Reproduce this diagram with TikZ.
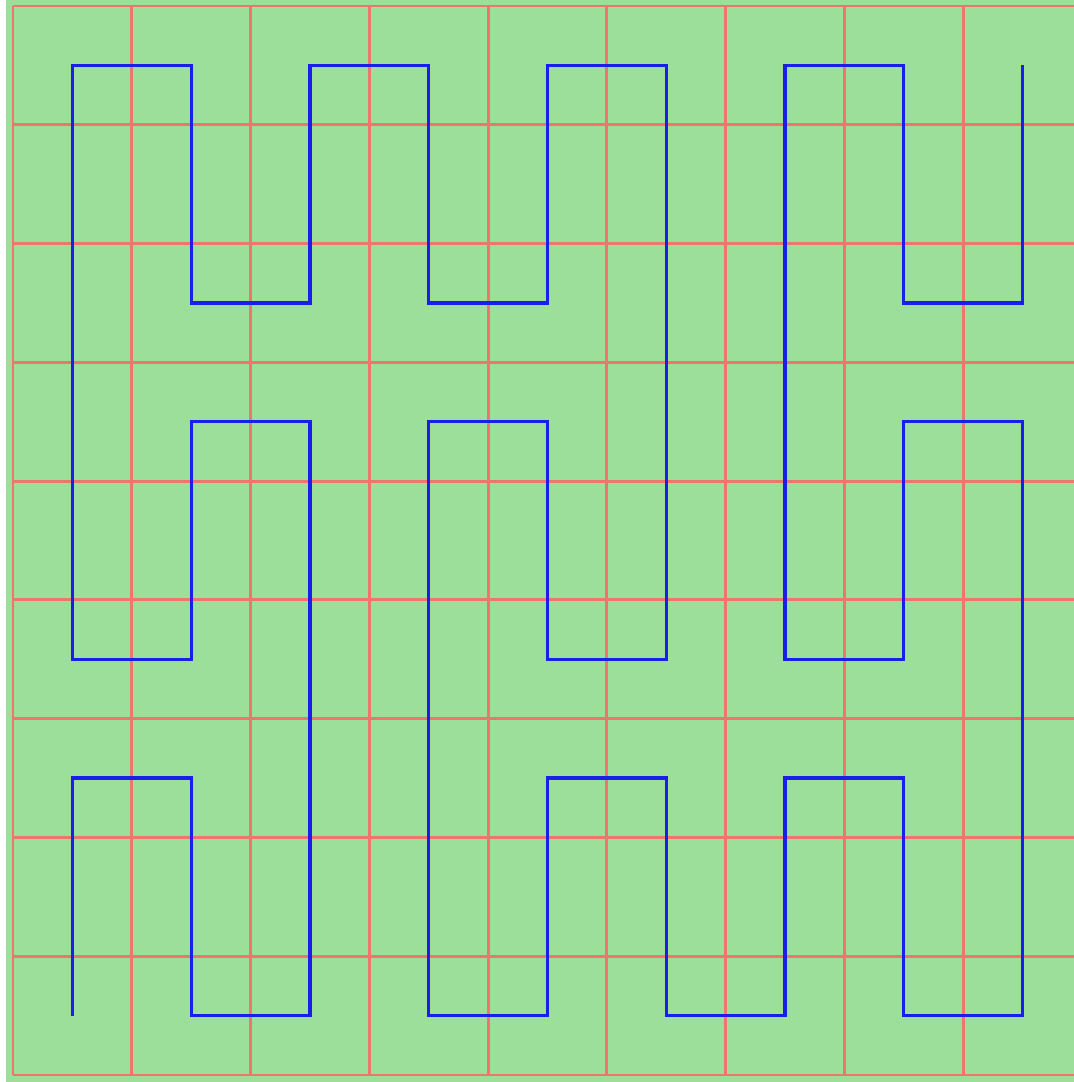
\documentclass[tikz,border=0pt]{standalone}
\usepackage{tikz}
\usetikzlibrary{calc}
\definecolor{peanogreen} {RGB}{155, 223, 155}
\definecolor{peanored}   {RGB}{238, 118, 108}
\definecolor{peanoblue}  {RGB}{ 25,  30, 235}
\begin{document}
\begin{tikzpicture}[x=1cm,y=1cm]
	\useasboundingbox (-0.1094,-0.0589) rectangle (8.9310,9.0505);
	\fill[peanogreen] (-0.0589,-0.0589) rectangle (9.0589,9.0589);
	\draw[peanored,line width=0.7pt] (0,0) grid (9,9);
	\draw[peanoblue,line width=0.75pt] (0.5,0.5)--(0.5,2.5)--(1.5,2.5)--(1.5,0.5)--(2.5,0.5)--(2.5,5.5)--(1.5,5.5)--(1.5,3.5)--(0.5,3.5)--(0.5,8.5)
		--(1.5,8.5)--(1.5,6.5)--(2.5,6.5)--(2.5,8.5)--(3.5,8.5)--(3.5,6.5)--(4.5,6.5)--(4.5,8.5)--(5.5,8.5)--(5.5,3.5)
		--(4.5,3.5)--(4.5,5.5)--(3.5,5.5)--(3.5,0.5)--(4.5,0.5)--(4.5,2.5)--(5.5,2.5)--(5.5,0.5)--(6.5,0.5)--(6.5,2.5)
		--(7.5,2.5)--(7.5,0.5)--(8.5,0.5)--(8.5,5.5)--(7.5,5.5)--(7.5,3.5)--(6.5,3.5)--(6.5,8.5)--(7.5,8.5)--(7.5,6.5)
		--(8.5,6.5)--(8.5,8.5);
\end{tikzpicture}
\end{document}
